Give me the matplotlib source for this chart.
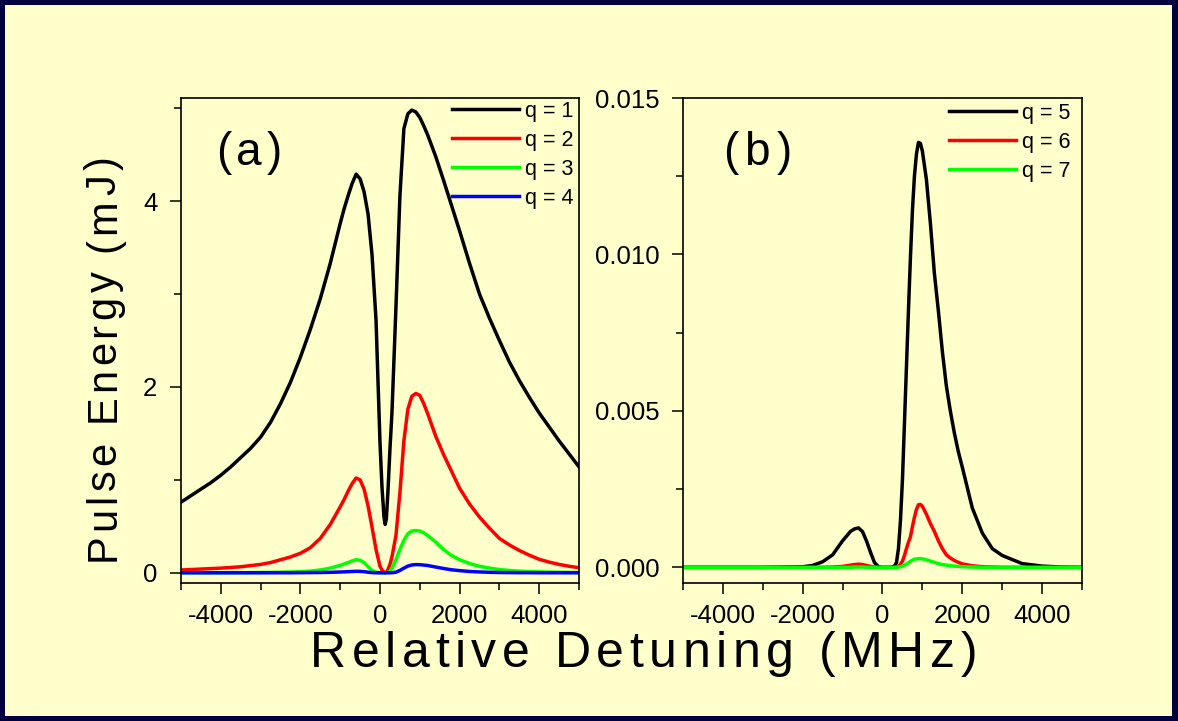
import matplotlib
matplotlib.use("Agg")
import matplotlib.pyplot as plt
from matplotlib import transforms
from matplotlib.patches import Rectangle
from matplotlib.ticker import MultipleLocator, FormatStrFormatter
from matplotlib.font_manager import FontProperties, findfont, get_font

FONT = "Liberation Sans"
plt.rcParams["font.family"] = [FONT, "DejaVu Sans"]
plt.rcParams["axes.unicode_minus"] = False

# ---- panel (a): q = 1..4, pulse energy in mJ ----
xa = [-5000, -4750, -4500, -4250, -4000, -3750, -3500, -3250, -3000, -2750,
      -2500, -2250, -2000, -1750, -1500, -1250, -1000, -900, -800, -700,
      -600, -500, -400, -300, -200, -100, 0, 50, 100, 130,
      160, 200, 250, 300, 400, 500, 600, 700, 800, 900,
      1000, 1100, 1200, 1400, 1600, 1800, 2000, 2250, 2500, 2750,
      3000, 3250, 3500, 3750, 4000, 4250, 4500, 4750, 5000]
q1 = [0.76, 0.83, 0.90, 0.97, 1.05, 1.14, 1.24, 1.34, 1.46, 1.62,
      1.82, 2.05, 2.32, 2.62, 2.95, 3.33, 3.76, 3.92, 4.06, 4.19,
      4.29, 4.24, 4.10, 3.86, 3.42, 2.72, 1.40, 0.92, 0.60, 0.52,
      0.58, 0.88, 1.33, 1.72, 2.85, 4.05, 4.78, 4.94, 4.98, 4.96,
      4.90, 4.81, 4.71, 4.48, 4.22, 3.95, 3.68, 3.33, 3.00, 2.74,
      2.50, 2.27, 2.07, 1.89, 1.72, 1.57, 1.42, 1.28, 1.14]
q2 = [0.03, 0.035, 0.04, 0.045, 0.05, 0.057, 0.065, 0.077, 0.09, 0.11,
      0.14, 0.17, 0.21, 0.27, 0.37, 0.52, 0.71, 0.79, 0.88, 0.96,
      1.02, 1.00, 0.90, 0.72, 0.49, 0.25, 0.07, 0.03, 0.005, 0.0,
      0.005, 0.035, 0.09, 0.17, 0.40, 0.86, 1.42, 1.76, 1.90, 1.93,
      1.91, 1.82, 1.71, 1.47, 1.27, 1.09, 0.91, 0.74, 0.60, 0.48,
      0.37, 0.30, 0.24, 0.19, 0.145, 0.115, 0.09, 0.07, 0.055]
q3 = [0.0, 0.0, 0.0, 0.0, 0.0, 0.001, 0.001, 0.002, 0.003, 0.004,
      0.006, 0.009, 0.012, 0.018, 0.03, 0.05, 0.08, 0.095, 0.11, 0.128,
      0.14, 0.135, 0.11, 0.065, 0.025, 0.006, 0.0, 0.0, 0.0, 0.0,
      0.0, 0.004, 0.018, 0.045, 0.14, 0.25, 0.35, 0.42, 0.45, 0.455,
      0.45, 0.43, 0.40, 0.33, 0.25, 0.185, 0.14, 0.10, 0.07, 0.05,
      0.035, 0.025, 0.018, 0.013, 0.01, 0.007, 0.005, 0.004, 0.003]
q4 = [0, 0, 0, 0, 0, 0, 0, 0, 0, 0,
      0, 0, 0.001, 0.002, 0.003, 0.005, 0.008, 0.01, 0.012, 0.014,
      0.016, 0.015, 0.012, 0.006, 0.002, 0, 0, 0, 0, 0,
      0, 0, 0, 0.001, 0.006, 0.025, 0.05, 0.072, 0.084, 0.088,
      0.087, 0.083, 0.078, 0.062, 0.046, 0.032, 0.023, 0.014, 0.009, 0.005,
      0.003, 0.002, 0.001, 0.001, 0, 0, 0, 0, 0]

# ---- panel (b): q = 5..7 ----
xb = [-5000, -4000, -3000, -2500, -2000, -1750, -1500, -1250, -1000, -900,
      -800, -700, -600, -500, -400, -300, -200, -100, 0, 100,
      200, 300, 350, 400, 450, 500, 550, 600, 650, 700,
      750, 800, 850, 900, 950, 1000, 1100, 1200, 1300, 1400,
      1500, 1600, 1700, 1800, 1900, 2000, 2250, 2500, 2750, 3000,
      3500, 4000, 4500, 5000]
q5 = [0, 0, 0, 0.00001, 0.00002, 0.00006, 0.00018, 0.0004, 0.00085, 0.001,
      0.00115, 0.00123, 0.00126, 0.00114, 0.00084, 0.00048, 0.00015, 0.00002, 0, 0,
      0, 0.00004, 0.00015, 0.0006, 0.0015, 0.0028, 0.0046, 0.0064, 0.0082, 0.0099,
      0.0114, 0.0125, 0.0132, 0.01358, 0.01355, 0.0133, 0.0124, 0.0110, 0.0094, 0.0082,
      0.0069, 0.0058, 0.0050, 0.0043, 0.0037, 0.0032, 0.0019, 0.0011, 0.0006, 0.00038,
      0.00012, 0.00004, 0.00001, 0]
q6 = [0, 0, 0, 0, 0, 0, 0, 0.00001, 0.00003, 0.00005,
      0.00007, 0.00009, 0.0001, 0.00009, 0.00006, 0.00003, 0.00001, 0, 0, 0,
      0, 0, 0.00001, 0.00003, 0.0001, 0.0002, 0.00038, 0.0006, 0.0008, 0.00098,
      0.0013, 0.0016, 0.00185, 0.002, 0.00201, 0.00195, 0.0017, 0.0014, 0.00115, 0.00085,
      0.0006, 0.0004, 0.0003, 0.00022, 0.00016, 0.00011, 0.00005, 0.00002, 0.00001, 0,
      0, 0, 0, 0]
q7 = [0, 0, 0, 0, 0, 0, 0, 0, 0, 0,
      0, 0.00001, 0.00001, 0.00001, 0, 0, 0, 0, 0, 0,
      0, 0, 0, 0.00001, 0.00002, 0.00004, 0.00007, 0.0001, 0.00015, 0.00019,
      0.00023, 0.00026, 0.00027, 0.00028, 0.00028, 0.00027, 0.00024, 0.0002, 0.00016, 0.00012,
      0.00009, 0.00007, 0.00005, 0.00004, 0.00003, 0.00002, 0.00001, 0, 0, 0,
      0, 0, 0, 0]

labels_a = ["q = 1", "q = 2", "q = 3", "q = 4"]
labels_b = ["q = 5", "q = 6", "q = 7"]
colors = ["#000000", "#ff0000", "#00ff00", "#0000ff"]

W, H = 1178, 721


def advances(text, size):
    font = get_font(findfont(FontProperties(family=FONT)))
    font.set_size(size, 72)
    return [font.load_char(ord(c)).linearHoriAdvance / 65536 for c in text]


def spaced(fig, text, x, y, size, gap, rotation=0, align="center"):
    # matplotlib has no letter spacing, so place characters one by one
    adv = advances(text, size)
    total = sum(adv) + gap * (len(text) - 1)
    pos = -total / 2 if align == "center" else 0
    for ch, a in zip(text, adv):
        if ch != " ":
            if rotation == 90:
                tr = transforms.offset_copy(fig.transFigure, fig=fig, x=0, y=pos, units="points")
            else:
                tr = transforms.offset_copy(fig.transFigure, fig=fig, x=pos, y=0, units="points")
            fig.text(x, y, ch, transform=tr, fontsize=size, ha="left", va="baseline",
                     rotation=rotation, rotation_mode="anchor")
        pos += a + gap


fig = plt.figure(figsize=(W / 100, H / 100), dpi=100, facecolor="#000040")
fig.patches.append(Rectangle((5 / W, 5 / H), (W - 11) / W, (H - 10) / H,
                             transform=fig.transFigure, facecolor="#ffffcc",
                             edgecolor="none", zorder=-1))

bottom = (H - 583) / H
height = 485 / H
ax_a = fig.add_axes([181 / W, bottom, 398 / W, height])
ax_b = fig.add_axes([683 / W, bottom, 399 / W, height])

for c, y, lab in zip(colors, [q1, q2, q3, q4], labels_a):
    ax_a.plot(xa, y, color=c, lw=2.5, label=lab, solid_joinstyle="round")
for c, y, lab in zip(colors, [q5, q6, q7], labels_b):
    ax_b.plot(xb, y, color=c, lw=2.5, label=lab, solid_joinstyle="round")

ax_a.set_ylim(-0.11, 5.11)
ax_a.yaxis.set_major_locator(MultipleLocator(2))
ax_a.yaxis.set_minor_locator(MultipleLocator(1))
ax_b.set_ylim(-0.0005, 0.015)
ax_b.yaxis.set_major_locator(MultipleLocator(0.005))
ax_b.yaxis.set_minor_locator(MultipleLocator(0.0025))
ax_b.yaxis.set_major_formatter(FormatStrFormatter("%.3f"))

for ax in (ax_a, ax_b):
    ax.set_facecolor("none")
    ax.set_xlim(-5000, 5000)
    ax.xaxis.set_major_locator(MultipleLocator(2000))
    ax.xaxis.set_minor_locator(MultipleLocator(1000))
    for s in ax.spines.values():
        s.set_linewidth(1.2)
    ax.tick_params(which="both", direction="out", width=1.1, top=False, right=False)
    ax.tick_params(which="major", length=8, labelsize=18.5)
    ax.tick_params(which="minor", length=5)
    ax.tick_params(axis="x", which="major", pad=7)
    ax.tick_params(axis="y", which="major", pad=9)

leg_kw = dict(loc="upper right", frameon=False, fontsize=15.5, handlelength=3.1,
              handletextpad=0.3, labelspacing=0.37, borderpad=0, borderaxespad=0)
ax_a.legend(bbox_to_anchor=(0.9874, 0.9938), **leg_kw)
ax_b.legend(bbox_to_anchor=(0.9724, 0.9897), **leg_kw)

spaced(fig, "(a)", 216 / W, (H - 165) / H, 33, 3.5, align="left")
spaced(fig, "(b)", 723 / W, (H - 165) / H, 33, 4.5, align="left")
spaced(fig, "Relative Detuning (MHz)", 643.5 / W, (H - 667) / H, 36, 4.0)
spaced(fig, "Pulse Energy (mJ)", 115 / W, (H - 359) / H, 30, 2.8, rotation=90)

fig.savefig("out.png", dpi=100, facecolor=fig.get_facecolor())
